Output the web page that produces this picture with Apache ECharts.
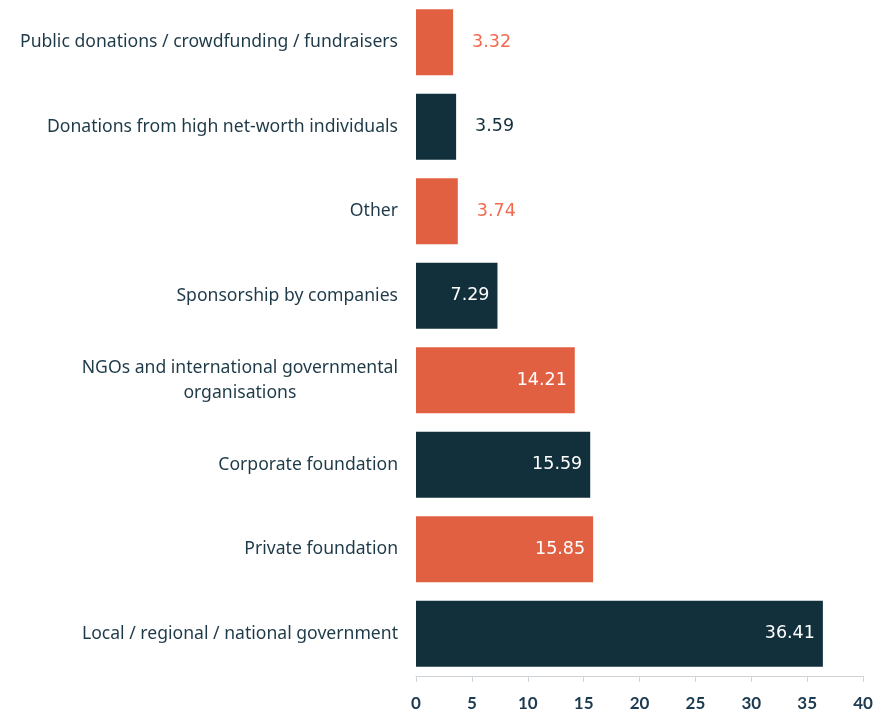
<!DOCTYPE html>
<html><head><meta charset="utf-8">
<script src="https://cdn.jsdelivr.net/npm/echarts@6/dist/echarts.min.js"></script>
<style>html,body{margin:0;padding:0;background:#fff}#c{width:889px;height:714px}</style>
</head><body><div id="c"></div>
<script>
const categories = [
  "Public donations / crowdfunding / fundraisers",
  "Donations from high net-worth individuals",
  "Other",
  "Sponsorship by companies",
  "NGOs and international governmental\norganisations",
  "Corporate foundation",
  "Private foundation",
  "Local / regional / national government"
];
const values = [3.32, 3.59, 3.74, 7.29, 14.21, 15.59, 15.85, 36.41];
const xTicks = [0, 5, 10, 15, 20, 25, 30, 35, 40];

const ORANGE = '#E26042', DARK = '#12303C', ORANGE_TXT = '#F26A50';
const chart = echarts.init(document.getElementById('c'), null, {renderer: 'canvas'});
const data = values.map((v, i) => {
  const col = i % 2 === 0 ? ORANGE : DARK;
  const outside = v < 5;
  return {
    value: v,
    itemStyle: {color: col},
    label: outside
      ? {position: 'right', distance: 19, color: i % 2 === 0 ? ORANGE_TXT : DARK}
      : {position: 'insideRight', distance: 8, color: '#ffffff'}
  };
});
chart.setOption({
  animation: false,
  grid: {left: 416, right: 26, top: -2, bottom: 38, containLabel: false},
  xAxis: {
    type: 'value', min: xTicks[0], max: xTicks[xTicks.length - 1], interval: 5,
    splitLine: {show: false},
    axisLine: {show: true, lineStyle: {color: '#cfd4d8', width: 1}},
    axisTick: {show: true, length: 6, lineStyle: {color: '#cfd4d8'}},
    axisLabel: {color: '#1C3A50', fontSize: 17, fontWeight: 'bold', margin: 19, fontFamily: 'Lato'}
  },
  yAxis: {
    type: 'category', data: categories, inverse: true,
    axisLine: {show: false}, axisTick: {show: false},
    axisLabel: {
      color: '#1E3A48', fontSize: 17.6, margin: 18, fontFamily: 'Noto Sans', lineHeight: 25,
      formatter: v => v.split('\n').map(s => '{c|' + s + '}').join('\n'),
      rich: {c: {align: 'center', color: '#1E3A48', fontSize: 17.6, fontFamily: 'Noto Sans', lineHeight: 25}}
    }
  },
  series: [{
    type: 'bar', data: data, barCategoryGap: '22%',
    label: {show: true, fontSize: 17.5, fontFamily: 'DejaVu Sans', formatter: p => p.value.toFixed(2)}
  }]
});
</script></body></html>
